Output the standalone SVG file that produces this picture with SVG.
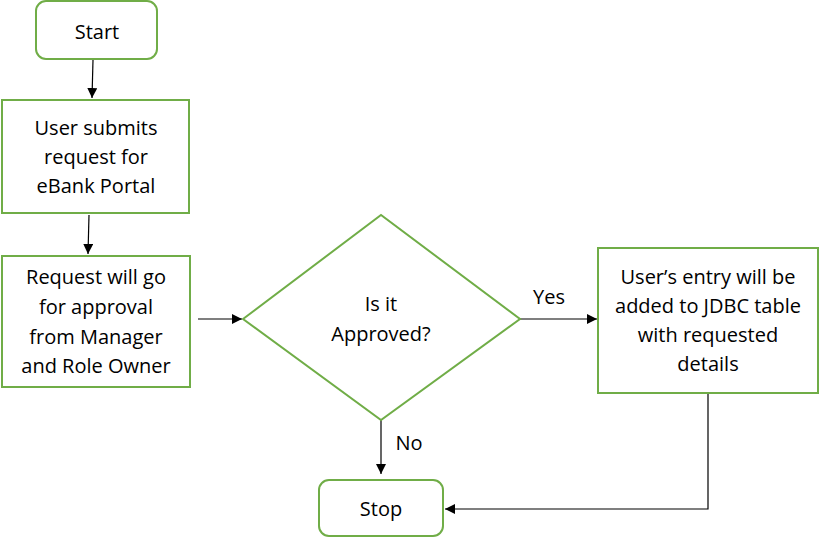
<svg xmlns="http://www.w3.org/2000/svg" width="821" height="537" viewBox="0 0 821 537">
<style>
.n{fill:#fff;stroke:#70AD47;stroke-width:2}
.t{font-family:"Open Sans","Liberation Sans",sans-serif;font-size:20px;fill:#000;text-anchor:middle}
.c{stroke:#000;stroke-width:1.2;fill:none}
</style>
<defs>
<marker id="ah" viewBox="0 0 10 10" refX="10" refY="5" markerWidth="10" markerHeight="10" markerUnits="userSpaceOnUse" orient="auto">
<path d="M0,0L10,5L0,10z" fill="#000"/>
</marker>
</defs>
<rect width="821" height="537" fill="#fff"/>
<g id="connectors">
<path class="c" d="M93,60L92,98" marker-end="url(#ah)"/>
<path class="c" d="M89,215L88,254" marker-end="url(#ah)"/>
<path class="c" d="M198,319L242,319" marker-end="url(#ah)"/>
<path class="c" d="M520,319L597,319" marker-end="url(#ah)"/>
<path class="c" d="M381,420L381,474" marker-end="url(#ah)"/>
<path class="c" d="M708,393L708,509L445,509" marker-end="url(#ah)"/>
<text class="t" x="549" y="304">Yes</text>
<text class="t" x="409" y="450">No</text>
</g>
<g id="start">
<rect class="n" x="36" y="1" width="121" height="58" rx="10"/>
<text class="t" x="97" y="39">Start</text>
</g>
<g id="submit">
<rect class="n" x="2" y="100" width="187" height="113"/>
<text class="t" x="96" y="135">User submits</text>
<text class="t" x="96" y="164">request for</text>
<text class="t" x="96" y="193">eBank Portal</text>
</g>
<g id="approval">
<rect class="n" x="2" y="256" width="188" height="131"/>
<text class="t" x="96" y="284">Request will go</text>
<text class="t" x="96" y="314">for approval</text>
<text class="t" x="96" y="344">from Manager</text>
<text class="t" x="96" y="373">and Role Owner</text>
</g>
<g id="decision">
<polygon class="n" points="243,319 381,215 520,319 381,420"/>
<text class="t" x="381" y="311">Is it</text>
<text class="t" x="381" y="341">Approved?</text>
</g>
<g id="entry">
<rect class="n" x="598" y="248" width="220" height="145"/>
<text class="t" x="708" y="284">User’s entry will be</text>
<text class="t" x="708" y="313">added to JDBC table</text>
<text class="t" x="708" y="342">with requested</text>
<text class="t" x="708" y="371">details</text>
</g>
<g id="stop">
<rect class="n" x="319" y="480" width="124" height="56" rx="10"/>
<text class="t" x="381" y="516">Stop</text>
</g>
</svg>
